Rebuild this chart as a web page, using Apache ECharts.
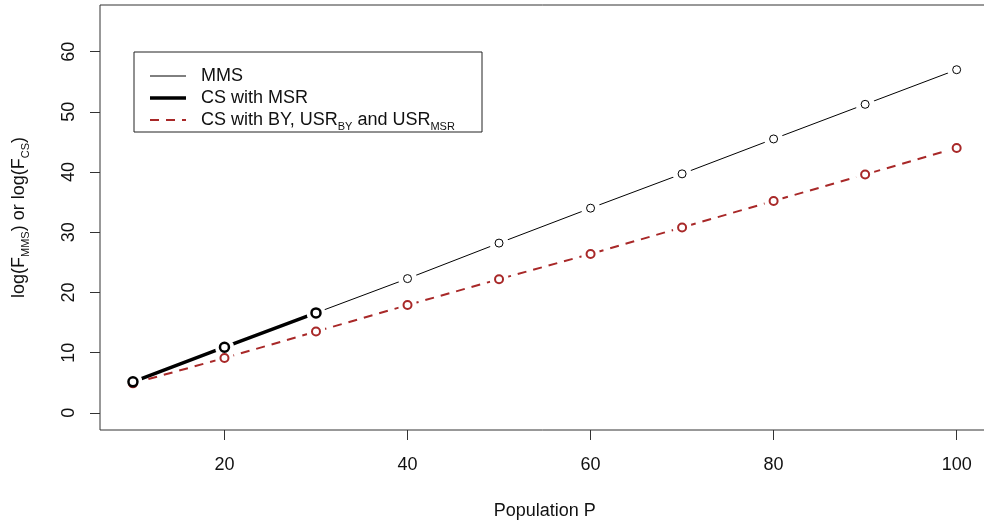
<!DOCTYPE html>
<html>
<head>
<meta charset="utf-8">
<script src="https://cdn.jsdelivr.net/npm/echarts@6/dist/echarts.min.js"></script>
<style>html,body{margin:0;padding:0;background:#fff}#c{width:984px;height:527px}</style>
</head>
<body>
<div id="c"></div>
<script>
const population = [10, 20, 30, 40, 50, 60, 70, 80, 90, 100];
const mmsValues = [5.15, 10.9, 16.6, 22.3, 28.2, 34.0, 39.7, 45.5, 51.25, 57.0];
const csMsrPopulation = [10, 20, 30];
const csMsrValues = [5.15, 10.9, 16.6];
const csByValues = [4.9, 9.1, 13.5, 17.9, 22.2, 26.4, 30.8, 35.2, 39.6, 44.0];
const xTicks = [20, 40, 60, 80, 100];
const yTicks = [0, 10, 20, 30, 40, 50, 60];
const legendNames = ['MMS', 'CS with MSR', 'CS with BY, USR_BY and USR_MSR'];

const RED = '#A82828';
const FONT = 'Liberation Sans, Arial, sans-serif';

const mmsData = population.map((p, i) => [p, mmsValues[i]]);
const csData = csMsrPopulation.map((p, i) => [p, csMsrValues[i]]);
const byData = population.map((p, i) => [p, csByValues[i]]);

function richLabel(s) {
  return s.replace(/_([A-Z]+)/g, '{sub|$1}');
}

const chart = echarts.init(document.getElementById('c'), null, {renderer: 'canvas'});
const legendRows = [76, 98, 120];
const option = {
  animation: false,
  backgroundColor: '#fff',
  grid: {left: 100, top: 5, width: 889.6, height: 425, show: true, borderColor: '#333', borderWidth: 1,
         containLabel: false, outerBoundsMode: 'none'},
  xAxis: {
    type: 'value', min: 6.4, max: 103.6,
    splitLine: {show: false},
    axisLine: {show: false, onZero: false},
    axisTick: {show: true, length: 10, customValues: xTicks, lineStyle: {color: '#333'}},
    axisLabel: {customValues: xTicks, margin: 26, fontSize: 18, color: '#111', fontFamily: FONT},
    name: 'Population P', nameLocation: 'middle', nameGap: 72,
    nameTextStyle: {fontSize: 18, color: '#111', fontFamily: FONT}
  },
  yAxis: {
    type: 'value', min: -2.85, max: 67.75,
    splitLine: {show: false},
    axisLine: {show: false, onZero: false},
    axisTick: {show: true, length: 10, customValues: yTicks, lineStyle: {color: '#333'}},
    axisLabel: {customValues: yTicks, rotate: 90, margin: 22, fontSize: 18, color: '#111', fontFamily: FONT},
    name: '{n|log(F}{sub|MMS}{n|) or log(F}{sub|CS}{n|)}', nameLocation: 'middle', nameGap: 69, nameRotate: 90,
    nameTextStyle: {
      fontFamily: FONT, color: '#111',
      rich: {
        n: {fontSize: 18, lineHeight: 24, fontFamily: FONT, color: '#111'},
        sub: {fontSize: 11, lineHeight: 24, verticalAlign: 'bottom', fontFamily: FONT, color: '#111'}
      }
    }
  },
  series: [
    {name: legendNames[0], type: 'line', data: mmsData, showSymbol: false, z: 2,
     lineStyle: {color: '#000', width: 1}},
    {name: legendNames[1], type: 'line', data: csData, showSymbol: false, z: 2,
     lineStyle: {color: '#000', width: 3.5}},
    {name: legendNames[2], type: 'line', data: byData, showSymbol: false, z: 2,
     lineStyle: {color: RED, width: 2, type: [9, 7]}},
    {type: 'scatter', data: mmsData.concat(byData), symbol: 'circle', symbolSize: 19, z: 3, silent: true,
     itemStyle: {color: '#fff', opacity: 1}},
    {type: 'scatter', data: byData, symbol: 'circle', symbolSize: 8, z: 4, silent: true,
     itemStyle: {color: '#fff', borderColor: RED, borderWidth: 2, opacity: 1}},
    {type: 'scatter', data: mmsData, symbol: 'circle', symbolSize: 8, z: 4, silent: true,
     itemStyle: {color: '#fff', borderColor: '#000', borderWidth: 1, opacity: 1}},
    {type: 'scatter', data: csData, symbol: 'circle', symbolSize: 9, z: 5, silent: true,
     itemStyle: {color: '#fff', borderColor: '#000', borderWidth: 2.5, opacity: 1}}
  ],
  graphic: [
    {type: 'rect', shape: {x: 134, y: 52, width: 348, height: 80}, style: {fill: '#fff', stroke: '#222', lineWidth: 1}, z: 10},
    {type: 'line', shape: {x1: 150, y1: legendRows[0], x2: 186, y2: legendRows[0]}, style: {stroke: '#000', lineWidth: 1}, z: 11},
    {type: 'line', shape: {x1: 150, y1: legendRows[1], x2: 186, y2: legendRows[1]}, style: {stroke: '#000', lineWidth: 3.5}, z: 11},
    {type: 'line', shape: {x1: 150, y1: legendRows[2], x2: 186, y2: legendRows[2]}, style: {stroke: RED, lineWidth: 2, lineDash: [9, 7]}, z: 11}
  ].concat(legendNames.map((nm, i) => ({
    type: 'text', x: 201, y: legendRows[i], z: 11,
    style: {
      text: richLabel(nm), fill: '#111', verticalAlign: 'middle',
      rich: {
        sub: {fontSize: 11, lineHeight: 24, verticalAlign: 'bottom', fontFamily: FONT, fill: '#111'}
      },
      fontSize: 18, fontFamily: FONT, lineHeight: 24
    }
  })))
};
chart.setOption(option);
</script>
</body>
</html>
